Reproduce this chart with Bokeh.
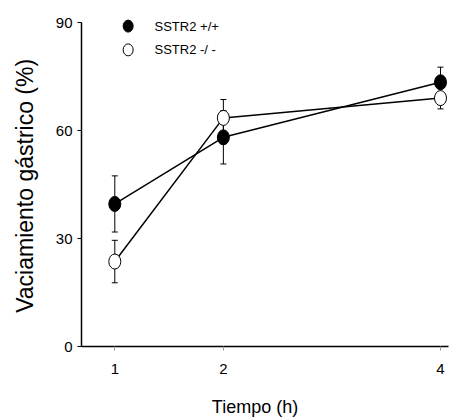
from bokeh.plotting import figure
from bokeh.models import Range1d, ColumnDataSource, Whisker, TeeHead, Label, FixedTicker
from bokeh.embed import file_html
from bokeh.resources import INLINE

# ---- data ----
time_h = [1, 2, 4]
wt_mean = [39.6, 58.1, 73.4]      # SSTR2 +/+
wt_err = [7.8, 7.4, 4.2]
ko_mean = [23.6, 63.5, 69.0]      # SSTR2 -/-
ko_err = [5.9, 5.1, 3.0]
x_ticks = [1, 2, 4]
y_ticks = [0, 30, 60, 90]
legend_labels = ["SSTR2 +/+", "SSTR2 -/ -"]
y_label = "Vaciamiento gástrico (%)"
x_label = "Tiempo (h)"

FONT = "Liberation Sans"
NBSP = "\u00a0"

p = figure(width=449, height=419, output_backend="svg", toolbar_location=None,
           x_range=Range1d(0.6933, 4.0737), y_range=Range1d(0, 92.78),
           min_border_left=81, min_border_right=1, min_border_top=12, min_border_bottom=73)
p.outline_line_color = None
p.grid.visible = False
p.background_fill_color = "white"
p.border_fill_color = "white"

# axes
p.yaxis.ticker = FixedTicker(ticks=y_ticks)
p.xaxis.ticker = FixedTicker(ticks=x_ticks)
p.yaxis.bounds = (0, 90)
for ax in (p.xaxis, p.yaxis):
    ax.axis_line_color = "black"
    ax.axis_line_width = 1.5
    ax.minor_tick_line_color = None
    ax.major_tick_in = 0
    ax.major_tick_out = 4
    ax.major_label_text_font = FONT
    ax.major_label_text_font_size = "15px"
    ax.major_label_text_color = "black"
    ax.axis_label_text_font = FONT
    ax.axis_label_text_font_style = "normal"
    ax.axis_label_text_color = "black"
p.yaxis.major_tick_line_color = "black"
p.xaxis.major_tick_line_color = "#999999"
p.yaxis.major_label_standoff = 5
p.xaxis.major_label_standoff = 13

p.yaxis.axis_label = y_label + NBSP * 2
p.yaxis.axis_label_text_font_size = "23px"
p.yaxis.axis_label_standoff = 15
p.xaxis.axis_label = x_label + NBSP * 4
p.xaxis.axis_label_text_font_size = "18px"
p.xaxis.axis_label_standoff = 20

# error bars
src_wt = ColumnDataSource(dict(x=time_h, up=[m + e for m, e in zip(wt_mean, wt_err)],
                               lo=[m - e for m, e in zip(wt_mean, wt_err)]))
src_ko = ColumnDataSource(dict(x=time_h, up=[m + e for m, e in zip(ko_mean, ko_err)],
                               lo=[m - e for m, e in zip(ko_mean, ko_err)]))
for src in (src_wt, src_ko):
    w = Whisker(source=src, base="x", upper="up", lower="lo", level="underlay",
                line_color="black", line_width=1,
                upper_head=TeeHead(size=6, line_color="black", line_width=1),
                lower_head=TeeHead(size=6, line_color="black", line_width=1))
    p.add_layout(w)

# lines
p.line(time_h, wt_mean, line_color="black", line_width=1.5)
p.line(time_h, ko_mean, line_color="black", line_width=1.5)

# markers
p.ellipse(time_h, wt_mean, width=12, height=15, width_units="screen", height_units="screen",
          fill_color="black", line_color="black", line_width=1)
p.ellipse(time_h, ko_mean, width=12, height=15, width_units="screen", height_units="screen",
          fill_color="white", line_color="black", line_width=1)

# legend (manual)
leg_x = 1.123
leg_y = [89.0, 82.4]
p.ellipse([leg_x], [leg_y[0]], width=10, height=12, width_units="screen", height_units="screen",
          fill_color="black", line_color="black")
p.ellipse([leg_x], [leg_y[1]], width=10, height=12, width_units="screen", height_units="screen",
          fill_color="white", line_color="black")
for lbl, yy in zip(legend_labels, leg_y):
    p.add_layout(Label(x=1.366, y=yy, text=lbl, text_font=FONT, text_font_size="13px",
                       text_baseline="middle", text_align="left", text_color="black"))

open("out.html", "w").write(file_html(p, INLINE))
